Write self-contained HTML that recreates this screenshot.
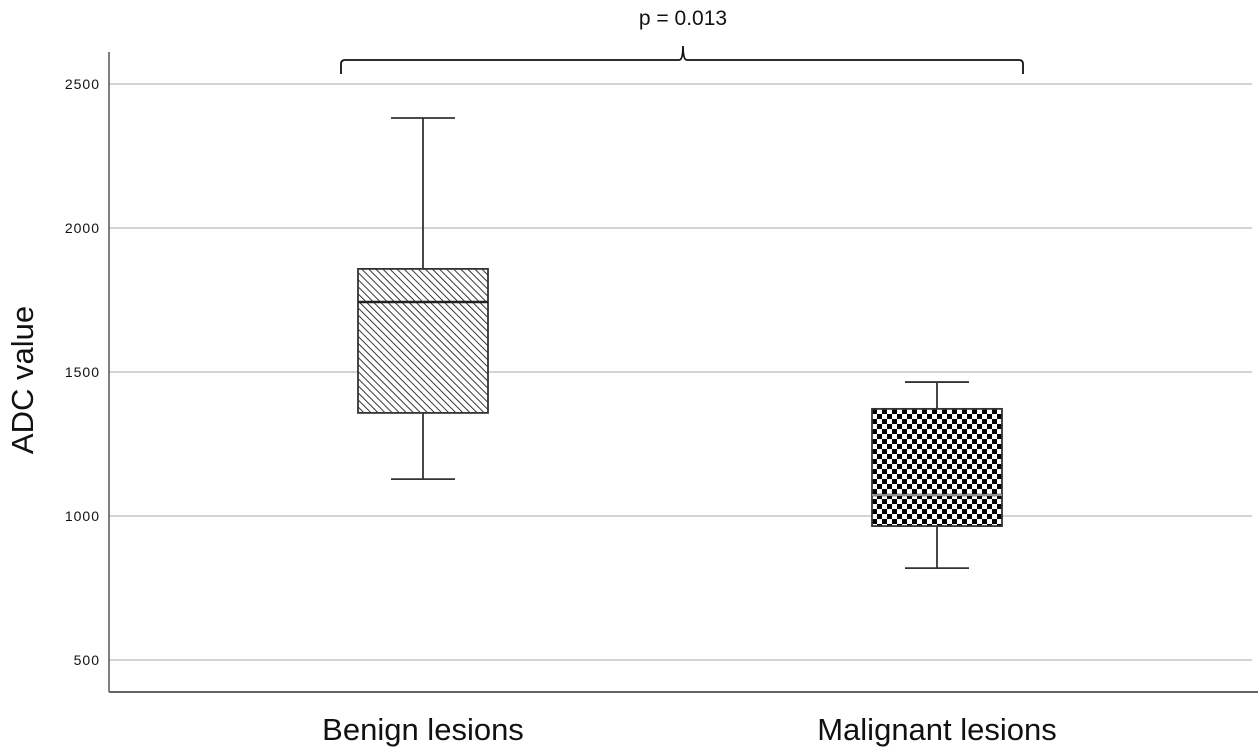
<!DOCTYPE html>
<html><head><meta charset="utf-8"><style>
body{margin:0;background:#fff}
svg{display:block;font-family:"Liberation Sans",sans-serif}
</style></head><body>
<svg id="chart" width="1258" height="753" viewBox="0 0 1258 753">
<defs>
<pattern id="hatch" patternUnits="userSpaceOnUse" width="5" height="5" patternTransform="rotate(-45)">
<rect width="5" height="5" fill="#fff"/><line x1="0" y1="0" x2="0" y2="5" stroke="#222" stroke-width="1.8"/>
</pattern>
<pattern id="check" patternUnits="userSpaceOnUse" x="872" y="409" width="10" height="10">
<rect width="10" height="10" fill="#fff"/><rect width="5" height="5" fill="#000"/><rect x="5" y="5" width="5" height="5" fill="#000"/>
</pattern>
</defs>
<g id="grid"></g>
<line x1="109" y1="52" x2="109" y2="692" stroke="#555" stroke-width="1.5"/>
<line x1="109" y1="692" x2="1258" y2="692" stroke="#666" stroke-width="2"/>
<text transform="translate(33,380) rotate(-90)" text-anchor="middle" font-size="31" fill="#111">ADC value</text>
<g id="boxes"></g>
<path d="M341,74 L341,64 Q341,60 345,60 L679,60 Q683,60 683,46 Q683,60 687,60 L1019,60 Q1023,60 1023,64 L1023,74" fill="none" stroke="#111" stroke-width="1.8"/>
<text x="683" y="25" text-anchor="middle" font-size="21" fill="#111">p = 0.013</text>
</svg>
<script>
const categories=["Benign lesions","Malignant lesions"];
const whiskerLow=[1128,819];
const q1=[1358,965];
const medians=[1743,1073];
const q3=[1858,1372];
const whiskerHigh=[2382,1465];
const yTicks=[500,1000,1500,2000,2500];
const fills=["url(#hatch)","url(#check)"];
const NS="http://www.w3.org/2000/svg";
const y=v=>660-(v-500)*0.288;
const xc=i=>423+i*514;
function mk(tag,attrs,parent){const e=document.createElementNS(NS,tag);for(const k in attrs)e.setAttribute(k,attrs[k]);parent.appendChild(e);return e;}
const grid=document.getElementById('grid');
yTicks.forEach(t=>{
 const l=mk('line',{x1:109,x2:1252,y1:y(t),y2:y(t),stroke:'#bbb','stroke-width':1.3},grid);
 
 
 const tx=mk('text',{x:100,y:y(t)+5,'text-anchor':'end','font-size':14,'letter-spacing':1,fill:'#111'},grid);
 tx.textContent=t;
 
 
});
const boxes=document.getElementById('boxes');
categories.forEach((c,i)=>{
 const cx=xc(i),g=mk('g',{},boxes);
 
 
 const s={stroke:'#333','stroke-width':1.8};
 mk('line',{x1:cx,x2:cx,y1:y(whiskerHigh[i]),y2:y(q3[i]),...s},g);
 mk('line',{x1:cx,x2:cx,y1:y(q1[i]),y2:y(whiskerLow[i]),...s},g);
 mk('line',{x1:cx-32,x2:cx+32,y1:y(whiskerHigh[i]),y2:y(whiskerHigh[i]),...s},g);
 mk('line',{x1:cx-32,x2:cx+32,y1:y(whiskerLow[i]),y2:y(whiskerLow[i]),...s},g);
 mk('rect',{x:cx-65,width:130,y:y(q3[i]),height:y(q1[i])-y(q3[i]),fill:fills[i],...s},g);
 mk('line',{x1:cx-65,x2:cx+65,y1:y(medians[i]),y2:y(medians[i]),stroke:'#222','stroke-width':2.5},g);
 if(i==1) mk('line',{x1:cx-65,x2:cx+65,y1:y(medians[i]),y2:y(medians[i]),stroke:'#fff','stroke-width':1},g);
 const t=mk('text',{x:cx,y:740,'text-anchor':'middle','font-size':31,fill:'#111'},boxes);
 t.textContent=c;
 
 
});
</script>
</body></html>
